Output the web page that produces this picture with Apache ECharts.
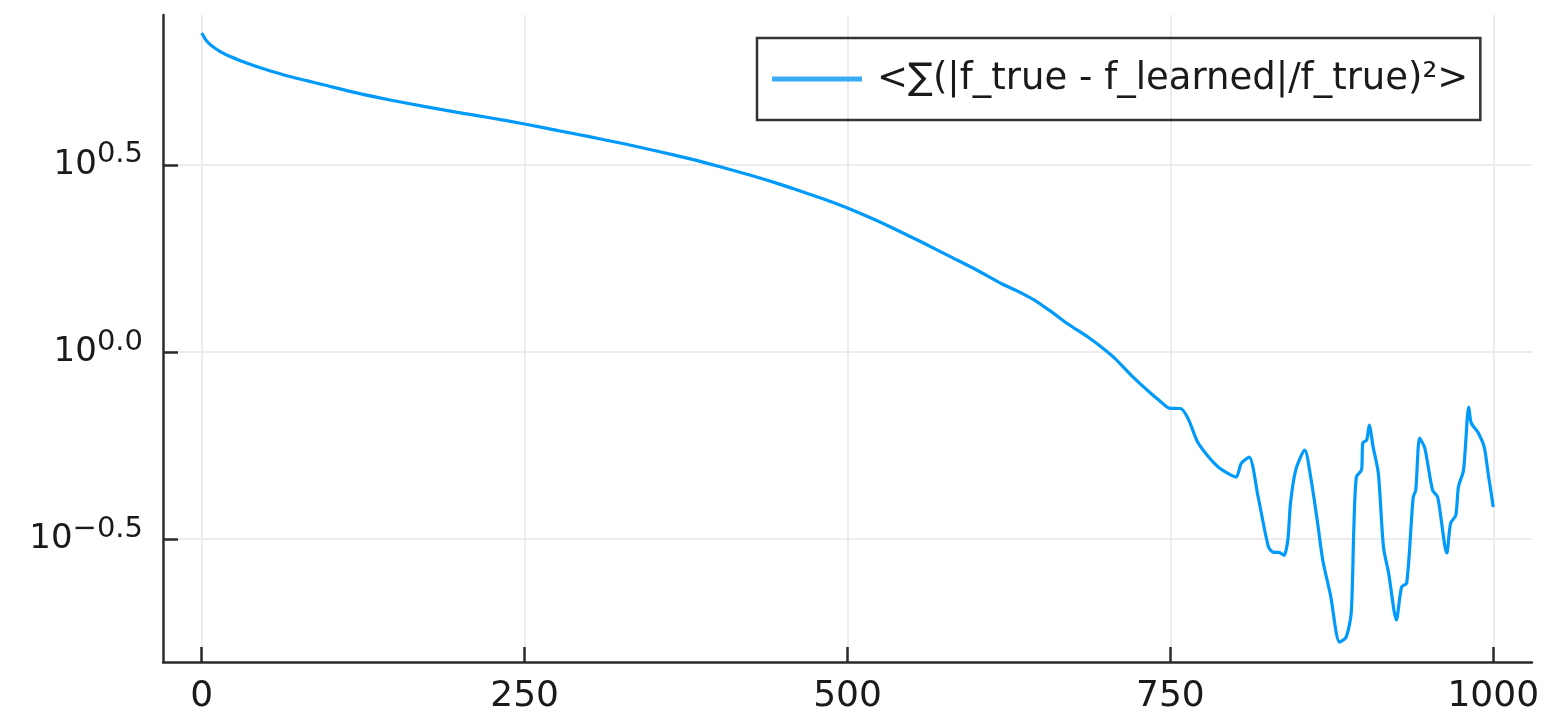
<!DOCTYPE html>
<html>
<head>
<meta charset="utf-8">
<script src="https://cdn.jsdelivr.net/npm/echarts@6/dist/echarts.min.js"></script>
<style>
html,body{margin:0;padding:0;background:#fff;}
#chart{width:1547px;height:718px;}
</style>
</head>
<body>
<div id="chart"></div>
<script>
// iteration (x) and log10 of error (y)
const iterations = [0, 1, 3, 5, 7, 10, 15, 22, 30, 43, 56, 69, 82, 95, 120, 146, 172, 198, 224, 250, 275, 300, 327, 353, 379, 400, 425, 445, 464, 482, 499, 520, 541, 560, 580, 600, 619, 632, 645, 658, 671, 687, 697, 707, 722, 735, 743, 749, 758, 764, 771, 779, 787, 797, 801, 805, 811, 818, 826, 830, 834, 838, 841, 843, 847, 854, 859, 864, 868, 874, 881, 886, 890, 892, 894, 898, 899, 902, 904, 907, 911, 915, 919, 925, 929, 933, 938, 940, 943, 947, 953, 957, 964, 967, 971, 973, 977, 981, 983, 988, 993, 996, 1000];
const log10Err = [0.852, 0.846, 0.834, 0.826, 0.820, 0.812, 0.801, 0.789, 0.778, 0.762, 0.748, 0.735, 0.724, 0.713, 0.692, 0.673, 0.656, 0.640, 0.625, 0.609, 0.592, 0.575, 0.556, 0.536, 0.515, 0.496, 0.472, 0.451, 0.429, 0.408, 0.386, 0.355, 0.321, 0.289, 0.254, 0.219, 0.183, 0.162, 0.138, 0.107, 0.074, 0.038, 0.012, -0.017, -0.070, -0.111, -0.134, -0.150, -0.151, -0.180, -0.240, -0.278, -0.307, -0.329, -0.334, -0.297, -0.281, -0.388, -0.521, -0.535, -0.535, -0.543, -0.500, -0.404, -0.316, -0.262, -0.342, -0.457, -0.556, -0.650, -0.775, -0.762, -0.698, -0.476, -0.334, -0.315, -0.243, -0.235, -0.195, -0.254, -0.323, -0.521, -0.591, -0.716, -0.628, -0.617, -0.388, -0.369, -0.230, -0.257, -0.369, -0.388, -0.537, -0.457, -0.436, -0.361, -0.315, -0.147, -0.190, -0.214, -0.254, -0.323, -0.414];
const xTicks = [0, 250, 500, 750, 1000];
const yTicks = [-0.5, 0.0, 0.5];
const seriesName = '<∑(|f_true - f_learned|/f_true)²>';

const chart = echarts.init(document.getElementById('chart'), null, {renderer: 'canvas'});
const font = 'DejaVu Sans';
const axisColor = '#2b2b2b';
const gridColor = '#ececec';
const textColor = '#1a1a1a';

function expLabel(v) {
  const s = (v < 0 ? '\u2212' : '') + Math.abs(v).toFixed(1);
  return '{b|10}{s|' + s + '}';
}

chart.setOption({
  animation: false,
  backgroundColor: '#ffffff',
  grid: {left: 163, right: 15, top: 15, bottom: 56, containLabel: false},
  legend: {
    show: true,
    left: 757, top: 38,
    padding: [21, 12, 21, 15],
    borderColor: '#333', borderWidth: 2.5,
    itemWidth: 90, itemHeight: 5,
    textStyle: {fontFamily: font, fontSize: 37, color: textColor, lineHeight: 40, padding: [0, 0, 0, 10]},
    data: [{name: seriesName, icon: 'rect', itemStyle: {color: '#3aacf5'}}]
  },
  xAxis: {
    type: 'value', min: -30, max: 1030,
    axisLine: {show: true, onZero: false, lineStyle: {color: axisColor, width: 2.5}},
    axisTick: {show: true, inside: true, length: 15, customValues: xTicks, lineStyle: {color: axisColor, width: 2.5}},
    axisLabel: {customValues: xTicks, margin: 17, fontFamily: font, fontSize: 36, color: textColor,
      formatter: v => String(v)},
    splitLine: {show: true, lineStyle: {color: gridColor, width: 2}}
  },
  yAxis: {
    type: 'value', min: -0.828, max: 0.90,
    axisLine: {show: true, onZero: false, lineStyle: {color: axisColor, width: 2.5}},
    axisTick: {show: true, inside: true, length: 15, customValues: yTicks, lineStyle: {color: axisColor, width: 2.5}},
    axisLabel: {
      customValues: yTicks, margin: 20,
      formatter: expLabel,
      rich: {
        b: {fontFamily: font, fontSize: 34, color: textColor, lineHeight: 34},
        s: {fontFamily: font, fontSize: 29, color: textColor, lineHeight: 29, padding: [0, 0, 20, 0]}
      }
    },
    splitLine: {show: true, lineStyle: {color: gridColor, width: 2}}
  },
  series: [{
    name: seriesName,
    type: 'line',
    showSymbol: false,
    symbol: 'none',
    smooth: 0.25,
    data: iterations.map((x, i) => [x, log10Err[i]]),
    lineStyle: {color: '#009AFA', width: 3.2},
    itemStyle: {color: '#009AFA'}
  }]
});
</script>
</body>
</html>
